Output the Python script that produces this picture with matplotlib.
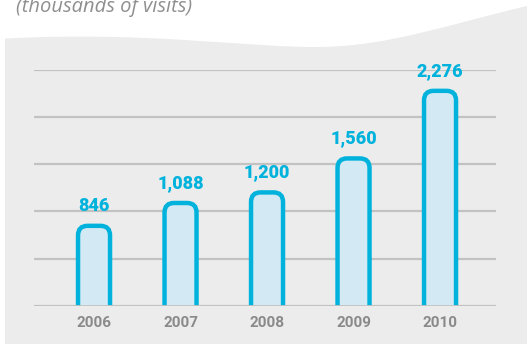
import numpy as np
import matplotlib.pyplot as plt
from matplotlib.patches import FancyBboxPatch, PathPatch
from matplotlib.path import Path

# visits per year (thousands)
years = ['2006', '2007', '2008', '2009', '2010']
visits = [846, 1088, 1200, 1560, 2276]
value_labels = ['846', '1,088', '1,200', '1,560', '2,276']

W, H = 527, 344
fill_col = '#d3eaf5'
edge_col = '#00b2dc'
bg_col = '#ececec'
grid_col = '#c2c2c2'
tick_col = '#8a8a8a'

fig = plt.figure(figsize=(W / 100, H / 100), dpi=100)
fig.patch.set_facecolor('white')


def fx(px):
    return px / W


def fy(py):
    return 1 - py / H


# wavy grey panel behind the chart
verts = [(fx(5), fy(344)), (fx(5), fy(38.5)),
         (fx(150), fy(31)), (fx(250), fy(48)), (fx(320), fy(47)),
         (fx(390), fy(46)), (fx(450), fy(24)), (fx(527), fy(6)),
         (fx(527), fy(344)), (fx(5), fy(344))]
codes = [Path.MOVETO, Path.LINETO,
         Path.CURVE4, Path.CURVE4, Path.CURVE4,
         Path.CURVE4, Path.CURVE4, Path.CURVE4,
         Path.LINETO, Path.CLOSEPOLY]
fig.patches.append(PathPatch(Path(verts, codes), transform=fig.transFigure,
                             facecolor=bg_col, edgecolor='none', zorder=-5))

fig.text(fx(16), fy(12), '(thousands of visits)', fontsize=14.5,
         family='Open Sans', style='italic', color='#8f8f8f', va='baseline')

ax = fig.add_axes([fx(34), fy(305.7), fx(462), (305.7 - 69.7) / H])
ax.set_zorder(2)
ax.set_facecolor('none')
ax.set_xlim(-0.694, 4.647)
ax.set_ylim(0, 2500)

for s in ax.spines.values():
    s.set_visible(False)
ax.set_yticks(np.arange(0, 2501, 500))
ax.yaxis.grid(True, color=grid_col, linewidth=1.6)
ax.set_axisbelow(True)
ax.tick_params(left=False, labelleft=False, bottom=False)

x = np.arange(len(years))
bw = 0.37
# px per data unit, used to keep rounded corners circular
sx = 462 / (4.647 + 0.694)
sy = 236 / 2500
aspect = sx / sy
rad = 0.11
for xi, v, lab in zip(x, visits, value_labels):
    p = FancyBboxPatch((xi - bw / 2 + rad, -400), bw - 2 * rad, v + 400 - rad * aspect,
                       boxstyle='round,pad=%f' % rad, mutation_aspect=aspect,
                       facecolor=fill_col, edgecolor=edge_col, linewidth=3.2,
                       zorder=3)
    ax.add_patch(p)
    p.set_clip_on(True)
    ax.annotate(lab, (xi, v), xytext=(0, 20), textcoords='offset pixels',
                ha='center', va='center', fontsize=13, fontweight='heavy',
                family='Roboto', color=edge_col, annotation_clip=False)

ax.axhline(0, color=grid_col, linewidth=2, zorder=4)

ax.set_xticks(x)
ax.set_xticklabels(years, fontsize=11, fontweight='bold', family='Roboto',
                   color=tick_col)
ax.tick_params(axis='x', pad=4)

fig.savefig('out.png', dpi=100, facecolor='white')
